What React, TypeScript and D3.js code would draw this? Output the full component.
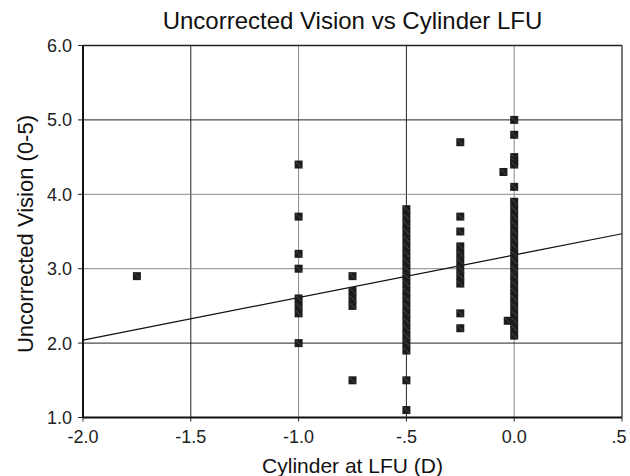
import React from "react";
import * as d3 from "d3";

const xTicks = [-2.0, -1.5, -1.0, -0.5, 0.0, 0.5];
const xTickLabels = ["-2.0", "-1.5", "-1.0", "-.5", "0.0", ".5"];
const yTicks = [1, 2, 3, 4, 5, 6];
const yTickLabels = ["1.0", "2.0", "3.0", "4.0", "5.0", "6.0"];

const cylX = [
  -1.75,
  -1.0, -1.0, -1.0, -1.0, -1.0, -1.0, -1.0, -1.0,
  -0.75, -0.75, -0.75, -0.75, -0.75,
  -0.5, -0.5, -0.5, -0.5, -0.5, -0.5, -0.5, -0.5, -0.5, -0.5, -0.5, -0.5, -0.5, -0.5, -0.5, -0.5, -0.5, -0.5, -0.5, -0.5, -0.5, -0.5,
  -0.25, -0.25, -0.25, -0.25, -0.25, -0.25, -0.25, -0.25, -0.25, -0.25, -0.25,
  -0.05, -0.03,
  0, 0, 0, 0, 0, 0, 0, 0, 0, 0, 0, 0, 0, 0, 0, 0, 0, 0, 0, 0, 0, 0, 0, 0, 0,
];
const visionY = [
  2.9,
  4.4, 3.7, 3.2, 3.0, 2.6, 2.5, 2.4, 2.0,
  2.9, 2.7, 2.6, 2.5, 1.5,
  3.8, 3.7, 3.6, 3.5, 3.4, 3.3, 3.2, 3.1, 3.0, 2.9, 2.8, 2.7, 2.6, 2.5, 2.4, 2.3, 2.2, 2.1, 2.0, 1.9, 1.5, 1.1,
  4.7, 3.7, 3.5, 3.3, 3.2, 3.1, 3.0, 2.9, 2.8, 2.4, 2.2,
  4.3, 2.3,
  5.0, 4.8, 4.5, 4.45, 4.4, 4.1, 3.9, 3.8, 3.7, 3.6, 3.5, 3.4, 3.3, 3.2, 3.1, 3.0, 2.9, 2.8, 2.7, 2.6, 2.5, 2.4, 2.3, 2.2, 2.1,
];
const fitX = [-2.0, 0.5];
const fitY = [2.04, 3.47];

const gridDarkX = [-1.5, -0.5];
const gridDarkY = [2, 5];

export default function App() {
  const W = 630, H = 476;
  const left = 83, right = 622, top = 45.5, bottom = 417.5;
  const x = d3.scaleLinear().domain([-2, 0.5]).range([left, right]);
  const y = d3.scaleLinear().domain([1, 6]).range([bottom, top]);
  const line = d3.line<number>().x((_, i) => x(fitX[i])).y((d) => y(d));
  const font = "'Liberation Sans', Arial, sans-serif";
  const ms = 8;
  return (
    <svg width={W} height={H} style={{ position: "absolute", left: 0, top: 0, background: "#fff" }} fontFamily={font}>
      <rect x={0} y={0} width={W} height={H} fill="#fff" />
      {/* grid */}
      {xTicks.slice(1, -1).map((t) => (
        <line key={"gx" + t} x1={x(t)} x2={x(t)} y1={top} y2={bottom}
          stroke={gridDarkX.includes(t) ? "#222" : "#888"} strokeWidth={1} />
      ))}
      {yTicks.slice(1, -1).map((t) => (
        <line key={"gy" + t} x1={left} x2={right} y1={y(t)} y2={y(t)}
          stroke={gridDarkY.includes(t) ? "#222" : "#888"} strokeWidth={1} />
      ))}
      {/* frame */}
      <line x1={left} x2={right} y1={top} y2={top} stroke="#222" strokeWidth={1.5} />
      <line x1={right} x2={right} y1={top} y2={bottom} stroke="#222" strokeWidth={1.2} />
      <line x1={left} x2={left} y1={top} y2={bottom} stroke="#111" strokeWidth={2} />
      <line x1={left} x2={right} y1={bottom} y2={bottom} stroke="#111" strokeWidth={2} />
      {/* ticks */}
      {yTicks.map((t, i) => (
        <g key={"yt" + t}>
          <line x1={left - 5} x2={left} y1={y(t)} y2={y(t)} stroke="#222" strokeWidth={1} />
          <text x={left - 11} y={y(t)} dy="0.36em" textAnchor="end" fontSize={18} fill="#222">{yTickLabels[i]}</text>
        </g>
      ))}
      {xTicks.map((t, i) => (
        <g key={"xt" + t}>
          <line x1={x(t)} x2={x(t)} y1={bottom} y2={bottom + 4} stroke="#222" strokeWidth={1} />
          <text x={i === xTicks.length - 1 ? x(t) - 3 : x(t)} y={bottom + 25} textAnchor="middle" fontSize={18} fill="#222">{xTickLabels[i]}</text>
        </g>
      ))}
      {/* regression line */}
      <path d={line(fitY) || ""} fill="none" stroke="#111" strokeWidth={1.2} />
      {/* points */}
      {cylX.map((cx, i) => {
        const px = x(cx), py = y(visionY[i]);
        return (
          <g key={"p" + i}>
            <rect x={px - ms / 2} y={py - ms / 2} width={ms} height={ms} fill="#1c1c1c" />
            <line x1={px - ms / 2 + 1} y1={py - ms / 2 + 1} x2={px + ms / 2 - 1} y2={py + ms / 2 - 1} stroke="#6a6a6a" strokeWidth={0.6} />
          </g>
        );
      })}
      {/* titles */}
      <text x={(left + right) / 2} y={29} textAnchor="middle" fontSize={24} fill="#111">Uncorrected Vision vs Cylinder LFU</text>
      <text x={(left + right) / 2} y={473} textAnchor="middle" fontSize={21} fill="#111">Cylinder at LFU (D)</text>
      <text transform={`translate(33,234) rotate(-90)`} textAnchor="middle" fontSize={22} fill="#111">Uncorrected Vision (0-5)</text>
    </svg>
  );
}
